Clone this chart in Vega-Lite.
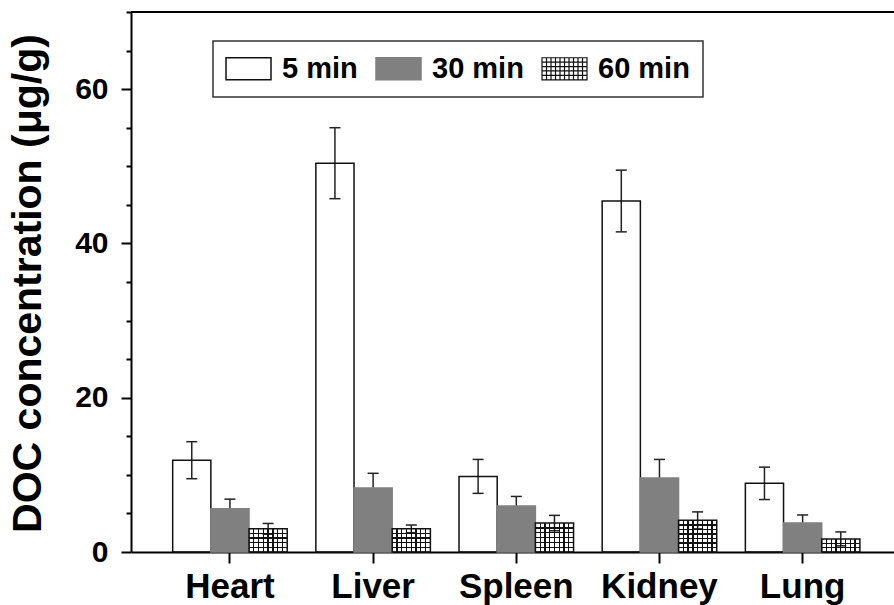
{
  "$schema": "https://vega.github.io/schema/vega-lite/v6.json",
  "width": 763,
  "height": 540,
  "autosize": {"type": "none"},
  "padding": {"left": 131, "top": 12, "right": 0, "bottom": 53},
  "background": "white",
  "config": {
    "view": {"stroke": null},
    "font": "Liberation Sans",
    "axisY": {
      "title": "DOC concentration (μg/g)",
      "values": [0, 10, 20, 30, 40, 50, 60],
      "labelExpr": "datum.value % 20 === 0 ? datum.label : ''",
      "labelFontSize": 30, "labelFontWeight": "bold", "labelColor": "#000", "labelPadding": 13,
      "domainColor": "#000", "domainWidth": 2, "tickColor": "#000", "tickWidth": 2, "grid": false,
      "titleFontSize": 41, "titleFontWeight": "bold", "titleColor": "#000",
      "titleX": -91, "titleY": 271, "titleAngle": -90, "titleAlign": "center", "titleBaseline": "alphabetic"
    }
  },
  "data": {
    "values": [
      {"organ": "Heart", "time": "5 min", "mean": 11.9, "lo": 9.5, "hi": 14.3},
      {"organ": "Heart", "time": "30 min", "mean": 5.6, "lo": 4.35, "hi": 6.85},
      {"organ": "Heart", "time": "60 min", "mean": 3.0, "lo": 2.3, "hi": 3.7},
      {"organ": "Liver", "time": "5 min", "mean": 50.4, "lo": 45.8, "hi": 55.0},
      {"organ": "Liver", "time": "30 min", "mean": 8.3, "lo": 6.4, "hi": 10.2},
      {"organ": "Liver", "time": "60 min", "mean": 3.0, "lo": 2.5, "hi": 3.5},
      {"organ": "Spleen", "time": "5 min", "mean": 9.8, "lo": 7.6, "hi": 12.0},
      {"organ": "Spleen", "time": "30 min", "mean": 5.95, "lo": 4.7, "hi": 7.2},
      {"organ": "Spleen", "time": "60 min", "mean": 3.75, "lo": 2.75, "hi": 4.75},
      {"organ": "Kidney", "time": "5 min", "mean": 45.5, "lo": 41.5, "hi": 49.5},
      {"organ": "Kidney", "time": "30 min", "mean": 9.6, "lo": 7.2, "hi": 12.0},
      {"organ": "Kidney", "time": "60 min", "mean": 4.1, "lo": 3.0, "hi": 5.2},
      {"organ": "Lung", "time": "5 min", "mean": 8.9, "lo": 6.8, "hi": 11.0},
      {"organ": "Lung", "time": "30 min", "mean": 3.75, "lo": 2.7, "hi": 4.8},
      {"organ": "Lung", "time": "60 min", "mean": 1.7, "lo": 0.8, "hi": 2.6}
    ]
  },
  "layer": [
    {
      "encoding": {
        "x": {
          "field": "organ", "type": "nominal",
          "sort": ["Heart", "Liver", "Spleen", "Kidney", "Lung"],
          "scale": {"paddingInner": 0.2, "paddingOuter": 0.2646, "align": 0.55},
          "axis": {
            "title": null, "labelAngle": 0, "labelFontSize": 35, "labelFontWeight": "bold",
            "labelColor": "#000", "domainColor": "#000", "domainWidth": 2,
            "tickColor": "#000", "tickWidth": 2, "tickSize": 11, "labelPadding": 6
          }
        },
        "xOffset": {"field": "time", "type": "nominal", "scale": {"domain": ["5 min", "30 min", "60 min"]}}
      },
      "layer": [
        {
          "mark": {"type": "rule", "color": "#222", "strokeWidth": 1.5},
          "encoding": {
            "y": {"field": "lo", "type": "quantitative", "scale": {"domain": [0, 70], "nice": false}, "title": "DOC concentration (μg/g)",
              "axis": {"tickSize": {"condition": {"test": "datum.value % 20 === 0", "value": 10}, "value": 5}}},
            "y2": {"field": "hi"}
          }
        },
        {
          "mark": {"type": "tick", "orient": "horizontal", "size": 11, "thickness": 1.5, "color": "#222", "opacity": 1},
          "encoding": {"y": {"field": "hi", "type": "quantitative", "title": "DOC concentration (μg/g)",
            "axis": {"tickSize": {"condition": {"test": "datum.value % 20 === 0", "value": 10}, "value": 5}}}}
        },
        {
          "mark": {"type": "tick", "orient": "horizontal", "size": 11, "thickness": 1.5, "color": "#222", "opacity": 1},
          "encoding": {"y": {"field": "lo", "type": "quantitative", "title": "DOC concentration (μg/g)",
            "axis": {"tickSize": {"condition": {"test": "datum.value % 20 === 0", "value": 10}, "value": 5}}}}
        },
        {
          "mark": {"type": "bar", "strokeWidth": 1.5},
          "encoding": {
            "y": {"field": "mean", "type": "quantitative", "title": "DOC concentration (μg/g)",
              "axis": {"tickSize": {"condition": {"test": "datum.value % 20 === 0", "value": 10}, "value": 5}}},
            "fill": {
              "field": "time", "type": "nominal",
              "scale": {"domain": ["5 min", "30 min", "60 min"], "range": ["rgba(255,255,255,0)", "#808080", "rgba(255,255,255,0)"]},
              "legend": {
                "title": null, "orient": "none", "legendX": 82, "legendY": 29, "direction": "horizontal",
                "strokeColor": "#333", "padding": 13,
                "symbolType": "M-0.644,-0.49H1.356V0.49H-0.644Z", "symbolSize": 2025,
                "symbolStrokeColor": "#111", "symbolStrokeWidth": 1.5, "symbolOpacity": 1,
                "labelFontSize": 29, "labelFontWeight": "bold", "labelColor": "#000", "labelFont": "Liberation Sans",
                "labelOffset": 27, "columnPadding": 15,
                "encode": {
                  "legend": {"update": {"strokeWidth": {"value": 1.5}}},
                  "symbols": {
                    "update": {
                      "fill": {"signal": "datum.label === '30 min' ? '#808080' : '#ffffff'"},
                      "stroke": {"signal": "datum.label === '30 min' ? '#808080' : '#111'"},
                      "shape": {"signal": "datum.label === '60 min' ? 'M-0.644,-0.49H1.356V0.49H-0.644Z M-0.444,-0.49V0.49 M-0.244,-0.49V0.49 M-0.044,-0.49V0.49 M0.156,-0.49V0.49 M0.356,-0.49V0.49 M0.556,-0.49V0.49 M0.756,-0.49V0.49 M0.956,-0.49V0.49 M1.156,-0.49V0.49 M-0.644,-0.294H1.356 M-0.644,-0.098H1.356 M-0.644,0.098H1.356 M-0.644,0.294H1.356' : 'M-0.644,-0.49H1.356V0.49H-0.644Z'"},
                      "strokeWidth": {"signal": "datum.label === '60 min' ? 1.2 : 1.5"}
                    }
                  }
                }
              }
            },
            "stroke": {"condition": {"test": "datum.time === '30 min'", "value": "#808080"}, "value": "#111"}
          }
        },
        {
          "transform": [{"filter": "datum.time === '60 min'"}],
          "mark": {"type": "bar", "strokeWidth": 0, "fill": {"gradient": "linear", "x1": 0, "y1": 0, "x2": 1, "y2": 0, "stops": [
            {"offset": 0, "color": "rgba(0,0,0,0)"},
            {"offset": 0.108, "color": "rgba(0,0,0,0)"}, {"offset": 0.108, "color": "#111"}, {"offset": 0.142, "color": "#111"}, {"offset": 0.142, "color": "rgba(0,0,0,0)"},
            {"offset": 0.233, "color": "rgba(0,0,0,0)"}, {"offset": 0.233, "color": "#111"}, {"offset": 0.267, "color": "#111"}, {"offset": 0.267, "color": "rgba(0,0,0,0)"},
            {"offset": 0.358, "color": "rgba(0,0,0,0)"}, {"offset": 0.358, "color": "#111"}, {"offset": 0.392, "color": "#111"}, {"offset": 0.392, "color": "rgba(0,0,0,0)"},
            {"offset": 0.483, "color": "rgba(0,0,0,0)"}, {"offset": 0.483, "color": "#111"}, {"offset": 0.517, "color": "#111"}, {"offset": 0.517, "color": "rgba(0,0,0,0)"},
            {"offset": 0.608, "color": "rgba(0,0,0,0)"}, {"offset": 0.608, "color": "#111"}, {"offset": 0.642, "color": "#111"}, {"offset": 0.642, "color": "rgba(0,0,0,0)"},
            {"offset": 0.733, "color": "rgba(0,0,0,0)"}, {"offset": 0.733, "color": "#111"}, {"offset": 0.767, "color": "#111"}, {"offset": 0.767, "color": "rgba(0,0,0,0)"},
            {"offset": 0.858, "color": "rgba(0,0,0,0)"}, {"offset": 0.858, "color": "#111"}, {"offset": 0.892, "color": "#111"}, {"offset": 0.892, "color": "rgba(0,0,0,0)"},
            {"offset": 1, "color": "rgba(0,0,0,0)"}
          ]}},
          "encoding": {"y": {"field": "mean", "type": "quantitative", "title": "DOC concentration (μg/g)",
            "axis": {"tickSize": {"condition": {"test": "datum.value % 20 === 0", "value": 10}, "value": 5}}}}
        },
        {
          "transform": [{"filter": "datum.time === '60 min'"}],
          "mark": {"type": "bar", "strokeWidth": 0},
          "encoding": {
            "y": {"field": "mean", "type": "quantitative", "title": "DOC concentration (μg/g)",
              "axis": {"tickSize": {"condition": {"test": "datum.value % 20 === 0", "value": 10}, "value": 5}}},
            "fill": {
              "condition": [
                {"test": "datum.organ === 'Spleen'", "value": {"gradient": "linear", "x1": 0, "y1": 0, "x2": 0, "y2": 1, "stops": [
                  {"offset": 0, "color": "rgba(0,0,0,0)"},
                  {"offset": 0.145, "color": "rgba(0,0,0,0)"}, {"offset": 0.145, "color": "#111"}, {"offset": 0.189, "color": "#111"}, {"offset": 0.189, "color": "rgba(0,0,0,0)"},
                  {"offset": 0.311, "color": "rgba(0,0,0,0)"}, {"offset": 0.311, "color": "#111"}, {"offset": 0.355, "color": "#111"}, {"offset": 0.355, "color": "rgba(0,0,0,0)"},
                  {"offset": 0.478, "color": "rgba(0,0,0,0)"}, {"offset": 0.478, "color": "#111"}, {"offset": 0.522, "color": "#111"}, {"offset": 0.522, "color": "rgba(0,0,0,0)"},
                  {"offset": 0.645, "color": "rgba(0,0,0,0)"}, {"offset": 0.645, "color": "#111"}, {"offset": 0.689, "color": "#111"}, {"offset": 0.689, "color": "rgba(0,0,0,0)"},
                  {"offset": 0.811, "color": "rgba(0,0,0,0)"}, {"offset": 0.811, "color": "#111"}, {"offset": 0.855, "color": "#111"}, {"offset": 0.855, "color": "rgba(0,0,0,0)"},
                  {"offset": 1, "color": "rgba(0,0,0,0)"}
                ]}},
                {"test": "datum.organ === 'Kidney'", "value": {"gradient": "linear", "x1": 0, "y1": 0, "x2": 0, "y2": 1, "stops": [
                  {"offset": 0, "color": "rgba(0,0,0,0)"},
                  {"offset": 0.122, "color": "rgba(0,0,0,0)"}, {"offset": 0.122, "color": "#111"}, {"offset": 0.163, "color": "#111"}, {"offset": 0.163, "color": "rgba(0,0,0,0)"},
                  {"offset": 0.265, "color": "rgba(0,0,0,0)"}, {"offset": 0.265, "color": "#111"}, {"offset": 0.306, "color": "#111"}, {"offset": 0.306, "color": "rgba(0,0,0,0)"},
                  {"offset": 0.408, "color": "rgba(0,0,0,0)"}, {"offset": 0.408, "color": "#111"}, {"offset": 0.449, "color": "#111"}, {"offset": 0.449, "color": "rgba(0,0,0,0)"},
                  {"offset": 0.551, "color": "rgba(0,0,0,0)"}, {"offset": 0.551, "color": "#111"}, {"offset": 0.592, "color": "#111"}, {"offset": 0.592, "color": "rgba(0,0,0,0)"},
                  {"offset": 0.694, "color": "rgba(0,0,0,0)"}, {"offset": 0.694, "color": "#111"}, {"offset": 0.735, "color": "#111"}, {"offset": 0.735, "color": "rgba(0,0,0,0)"},
                  {"offset": 0.837, "color": "rgba(0,0,0,0)"}, {"offset": 0.837, "color": "#111"}, {"offset": 0.878, "color": "#111"}, {"offset": 0.878, "color": "rgba(0,0,0,0)"},
                  {"offset": 1, "color": "rgba(0,0,0,0)"}
                ]}},
                {"test": "datum.organ === 'Lung'", "value": {"gradient": "linear", "x1": 0, "y1": 0, "x2": 0, "y2": 1, "stops": [
                  {"offset": 0, "color": "rgba(0,0,0,0)"},
                  {"offset": 0.283, "color": "rgba(0,0,0,0)"}, {"offset": 0.283, "color": "#111"}, {"offset": 0.383, "color": "#111"}, {"offset": 0.383, "color": "rgba(0,0,0,0)"},
                  {"offset": 0.617, "color": "rgba(0,0,0,0)"}, {"offset": 0.617, "color": "#111"}, {"offset": 0.717, "color": "#111"}, {"offset": 0.717, "color": "rgba(0,0,0,0)"},
                  {"offset": 1, "color": "rgba(0,0,0,0)"}
                ]}}
              ],
              "value": {"gradient": "linear", "x1": 0, "y1": 0, "x2": 0, "y2": 1, "stops": [
                {"offset": 0, "color": "rgba(0,0,0,0)"},
                {"offset": 0.172, "color": "rgba(0,0,0,0)"}, {"offset": 0.172, "color": "#111"}, {"offset": 0.228, "color": "#111"}, {"offset": 0.228, "color": "rgba(0,0,0,0)"},
                {"offset": 0.372, "color": "rgba(0,0,0,0)"}, {"offset": 0.372, "color": "#111"}, {"offset": 0.428, "color": "#111"}, {"offset": 0.428, "color": "rgba(0,0,0,0)"},
                {"offset": 0.572, "color": "rgba(0,0,0,0)"}, {"offset": 0.572, "color": "#111"}, {"offset": 0.628, "color": "#111"}, {"offset": 0.628, "color": "rgba(0,0,0,0)"},
                {"offset": 0.772, "color": "rgba(0,0,0,0)"}, {"offset": 0.772, "color": "#111"}, {"offset": 0.828, "color": "#111"}, {"offset": 0.828, "color": "rgba(0,0,0,0)"},
                {"offset": 1, "color": "rgba(0,0,0,0)"}
              ]}
            }
          }
        }
      ]
    },
    {
      "data": {"values": [{}]},
      "mark": {"type": "rule", "color": "#000", "strokeWidth": 2},
      "encoding": {"y": {"datum": 70, "type": "quantitative", "title": "DOC concentration (μg/g)",
        "axis": {"tickSize": {"condition": {"test": "datum.value % 20 === 0", "value": 10}, "value": 5}}}}
    }
  ]
}
